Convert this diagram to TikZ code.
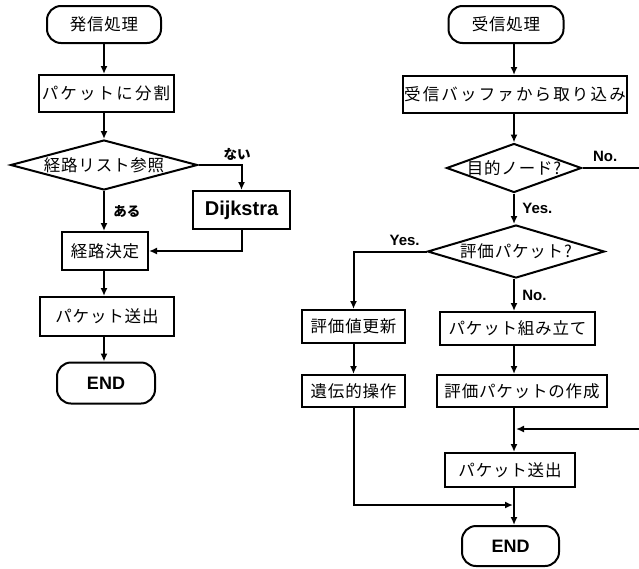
\documentclass[tikz,border=0pt]{standalone}
\usepackage{fontspec}
\usetikzlibrary{shapes.geometric,arrows.meta}
\setmainfont{Liberation Sans}
\newfontfamily\jp[LetterSpace=5]{Noto Sans CJK JP}
\newfontfamily\jpwide[LetterSpace=13]{Noto Sans CJK JP}
\newfontfamily\jpb{Noto Sans CJK JP}
\newcommand\jpf{\jp\fontsize{16.5}{18}\selectfont}
\newcommand\jpwf{\jpwide\fontsize{16.5}{18}\selectfont}
\tikzset{
  base/.style={draw, line width=2pt, inner sep=0pt, font=\jpf},
  term/.style={base, rounded corners=14pt, minimum height=37pt},
  proc/.style={base, minimum height=34pt},
  dec/.style={base, diamond},
  enlab/.style={font=\bfseries\fontsize{15}{15}\selectfont},
  jlab/.style={font=\jpb\bfseries\fontsize{13.5}{13.5}\selectfont},
  arr/.style={line width=2pt, -{Latex[length=8pt,width=7pt]}},
  ln/.style={line width=2pt},
}
\begin{document}
\begin{tikzpicture}[x=1pt,y=-1pt]
\useasboundingbox[fill=white] (0,0) rectangle (639,568);
% ---------- left flow ----------
\node[term, minimum width=114pt] (s1) at (104,24.5) {発信処理};
\node[proc, minimum width=135pt, minimum height=37pt, font=\jpwf] (s2) at (106,93.5) {パケットに分割};
\node[dec, minimum width=187pt, minimum height=50pt, label={[font=\jpf]center:経路リスト参照}] (s3) at (104,165) {};
\node[proc, minimum width=97pt, minimum height=38pt, font=\bfseries\fontsize{20}{20}\selectfont] (dij) at (241.5,210) {Dijkstra};
\node[proc, minimum width=86pt, minimum height=38pt] (s4) at (105,251) {経路決定};
\node[proc, minimum width=134pt, minimum height=39pt] (s5) at (107,316.5) {パケット送出};
\node[term, minimum width=98pt, minimum height=41pt, font=\bfseries\fontsize{18}{18}\selectfont] (s6) at (106,383) {END};

\draw[arr] (s1.south) -- (s1.south |- s2.north);
\draw[arr] (s1.south |- s2.south) -- (s3.north);
\draw[arr] (s3.east) -| (dij.north) node[jlab, pos=0.45, above=0pt] {ない};
\draw[arr] (s3.south) -- (s3.south |- s4.north) node[jlab, midway, right=5pt] {ある};
\draw[arr] (dij.south) |- (s4.east);
\draw[arr] (s3.south |- s4.south) -- (s3.south |- s5.north);
\draw[arr] (s3.south |- s5.south) -- (s3.south |- s6.north);

% ---------- right flow ----------
\coordinate (cR) at (514,0);
\node[term, minimum width=115pt] (r1) at (506,24.5) {受信処理};
\node[proc, minimum width=224pt, minimum height=37pt, font=\jpwf] (r2) at (515,94.5) {受信バッファから取り込み};
\node[dec, minimum width=135pt, minimum height=49pt, label={[font=\jpf]center:目的ノード?}] (r3) at (514,168) {};
\node[dec, minimum width=177pt, minimum height=53pt, label={[font=\jpf]center:評価パケット?}] (r4) at (516,251.5) {};
\node[proc, minimum width=103pt, minimum height=33pt] (r5) at (353.5,326.5) {評価値更新};
\node[proc, minimum width=155pt, minimum height=33pt] (r6) at (517.5,328.5) {パケット組み立て};
\node[proc, minimum width=103pt, minimum height=32pt] (r7) at (353.5,391) {遺伝的操作};
\node[proc, minimum width=170pt, minimum height=32pt] (r8) at (522,391) {評価パケットの作成};
\node[proc, minimum width=130pt, minimum height=34pt] (r9) at (510,470) {パケット送出};
\node[term, minimum width=97pt, minimum height=40pt, font=\bfseries\fontsize{18}{18}\selectfont] (r10) at (510.5,546) {END};

\coordinate (cN1) at (639,168);
\coordinate (cN2) at (639,429);
\coordinate (cJ) at (514,505);

\draw[arr] (r1.south -| cR) -- (r2.north -| cR);
\draw[arr] (r2.south -| cR) -- (r3.north -| cR);
\draw[ln] (r3.east) -- (cN1) node[enlab, pos=0.4, above=2pt] {No.};
\draw[arr] (r3.south -| cR) -- (r4.north -| cR) node[enlab, midway, right=4pt] {Yes.};
\draw[arr] (r4.west) -| (r5.north) node[enlab, pos=0.15, above=2pt] {Yes.};
\draw[arr] (r4.south -| cR) -- (r6.north -| cR) node[enlab, midway, right=4pt] {No.};
\draw[arr] (r5.south) -- (r7.north);
\draw[arr] (r6.south -| cR) -- (r8.north -| cR);
\draw[arr] (r8.south -| cR) -- (r9.north -| cR);
\draw[arr] (cN2) -- ([xshift=2pt]cN2 -| cR);
\draw[arr] (r7.south) |- ([xshift=-1pt]cJ);
\draw[arr] (r9.south -| cR) -- (r10.north -| cR);
\end{tikzpicture}
\end{document}
